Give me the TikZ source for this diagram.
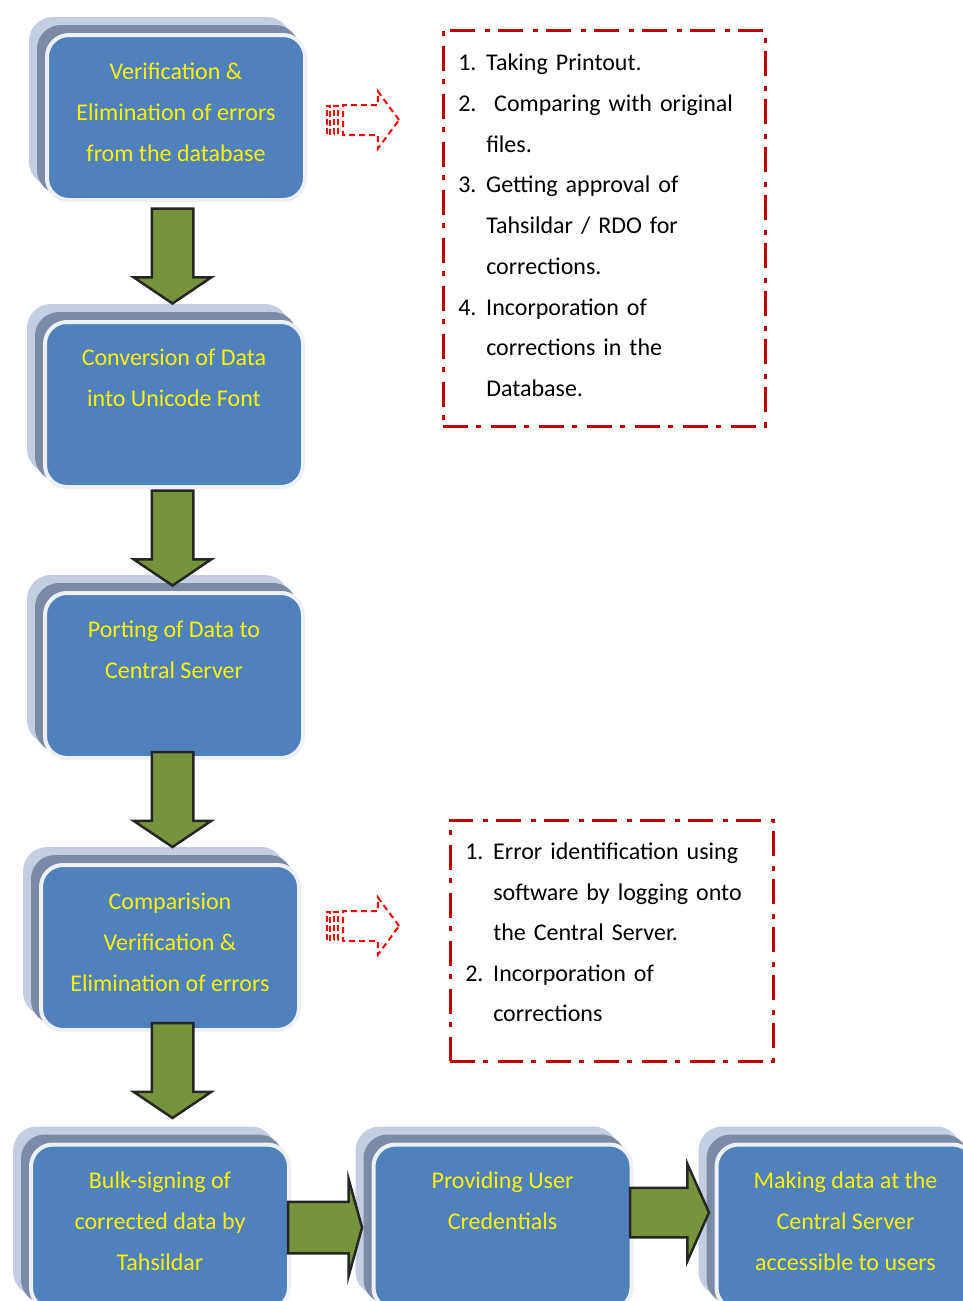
\documentclass[tikz,border=0pt]{standalone}
\usepackage{fontspec}
\setmainfont{Carlito}
\usepackage{xcolor}
\usetikzlibrary{
    shapes,
    shapes.arrows,
    calc,
    positioning
}
\definecolor{boxblue}{HTML}{4F81BD}
\definecolor{boxrim}{HTML}{EEF0F3}
\definecolor{layerdark}{HTML}{7B8BA6}
\definecolor{layerlight}{HTML}{C3CFE0}
\definecolor{arrowgreen}{HTML}{77933C}
\definecolor{arrowline}{HTML}{262626}
\definecolor{listred}{HTML}{C00000}
\newcommand{\itm}[1]{\makebox[28pt][l]{#1}}

\begin{document}
\begin{tikzpicture}[x=1pt, y=1pt,
    stepbox/.style={rectangle, rounded corners=22pt, minimum width=258pt, minimum height=165pt,
        inner sep=0pt, fill=boxblue, draw=boxrim, line width=4pt,
        preaction={fill=layerlight, draw=layerlight, line width=4pt, transform canvas={shift={(-16pt,16pt)}}},
        preaction={fill=layerdark, draw=layerdark, line width=4pt, transform canvas={shift={(-8pt,8pt)}}}},
    steptext/.style={anchor=north, align=center, inner sep=0pt, text=yellow, font=\fontsize{24}{41}\selectfont},
    flow/.style={single arrow, draw=arrowline, fill=arrowgreen, line width=2.5pt, inner xsep=0pt,
        inner ysep=19.5pt, minimum height=95pt, single arrow head extend=18pt, single arrow tip angle=112},
    listbox/.style={rectangle, draw=listred, line width=2.5pt, dash pattern=on 25pt off 8pt on 5pt off 10pt,
        anchor=north west, align=left, inner xsep=15pt, inner ysep=0pt, font=\fontsize{24}{40.75}\selectfont},
    hint/.style={single arrow, draw=red, line width=2pt, dash pattern=on 6pt off 4pt, inner xsep=0pt,
        inner ysep=14pt, minimum height=56pt, single arrow head extend=13.5pt, single arrow tip angle=107},
    stripe/.style={draw=red, line width=2pt, dash pattern=on 6pt off 3pt}]
    \useasboundingbox (0,0) rectangle (963,-1301);
    \node[stepbox] (s1) at (176, -117.5) {};
    \node[stepbox] (s2) at (174, -404.5) {};
    \node[stepbox] (s3) at (174, -675.5) {};
    \node[stepbox] (s4) at (170, -947.5) {};
    \node[stepbox] (s5) at (160, -1227) {};
    \node[stepbox] (s6) at (502.5, -1227) {};
    \node[stepbox] (s7) at (845.5, -1227) {};
    \node[flow, rotate=-90] (a1) at (172.5, -249) {};
    \node[flow, rotate=-90] (a2) at (172.5, -531) {};
    \node[flow, rotate=-90] (a3) at (172.5, -792.5) {};
    \node[flow, rotate=-90] (a4) at (172.5, -1063.5) {};
    \node[flow, inner ysep=24.5pt, minimum height=74pt, single arrow head extend=23pt,
        single arrow tip angle=149] (a5) at (321.5, -1227.5) {};
    \node[flow, inner ysep=23.5pt, minimum height=79pt, single arrow head extend=24pt,
        single arrow tip angle=132] (a6) at (664, -1212.5) {};
    \node[steptext] (t1) at ([yshift=-30pt]s1.north) {Verification \&\\Elimination of errors\\from the database};
    \node[steptext] (t2) at ([yshift=-29pt]s2.north) {Conversion of Data\\into Unicode Font};
    \node[steptext] (t3) at ([yshift=-30pt]s3.north) {Porting of Data to\\Central Server};
    \node[steptext] (t4) at ([yshift=-30pt]s4.north) {Comparision\\Verification \&\\Elimination of errors};
    \node[steptext] (t5) at ([yshift=-29pt]s5.north) {Bulk-signing of\\corrected data by\\Tahsildar};
    \node[steptext] (t6) at ([yshift=-29pt]s6.north) {Providing User\\Credentials};
    \node[steptext] (t7) at ([yshift=-29pt]s7.north) {Making data at the\\Central Server\\accessible to users};
    \node[hint] (h1) at (365.5, -120) {};
    \draw[stripe] ($(h1.west)+(-15,-14)$) rectangle ++(3,28);
    \draw[stripe] ($(h1.west)+(-8,-14)$) rectangle ++(4,28);
    \node[hint] (h2) at (365.5, -926) {};
    \draw[stripe] ($(h2.west)+(-15,-14)$) rectangle ++(3,28);
    \draw[stripe] ($(h2.west)+(-8,-14)$) rectangle ++(4,28);
    \node[listbox, text width=292pt, minimum height=396pt, text depth=332pt] (l1) at (442, -29) {%
        \itm{1.}Taking Printout.\\
        \itm{2.}\ Comparing with original\\
        \itm{}files.\\
        \itm{3.}Getting approval of\\
        \itm{}Tahsildar / RDO for\\
        \itm{}corrections.\\
        \itm{4.}Incorporation of\\
        \itm{}corrections in the\\
        \itm{}Database.};
    \node[listbox, text width=293pt, minimum height=241pt, text depth=179pt,
        font=\fontsize{24}{40.5}\selectfont] (l2) at (449, -819) {%
        \itm{1.}Error identification using\\
        \itm{}software by logging onto\\
        \itm{}the Central Server.\\
        \itm{2.}Incorporation of\\
        \itm{}corrections};
\end{tikzpicture}
\end{document}
